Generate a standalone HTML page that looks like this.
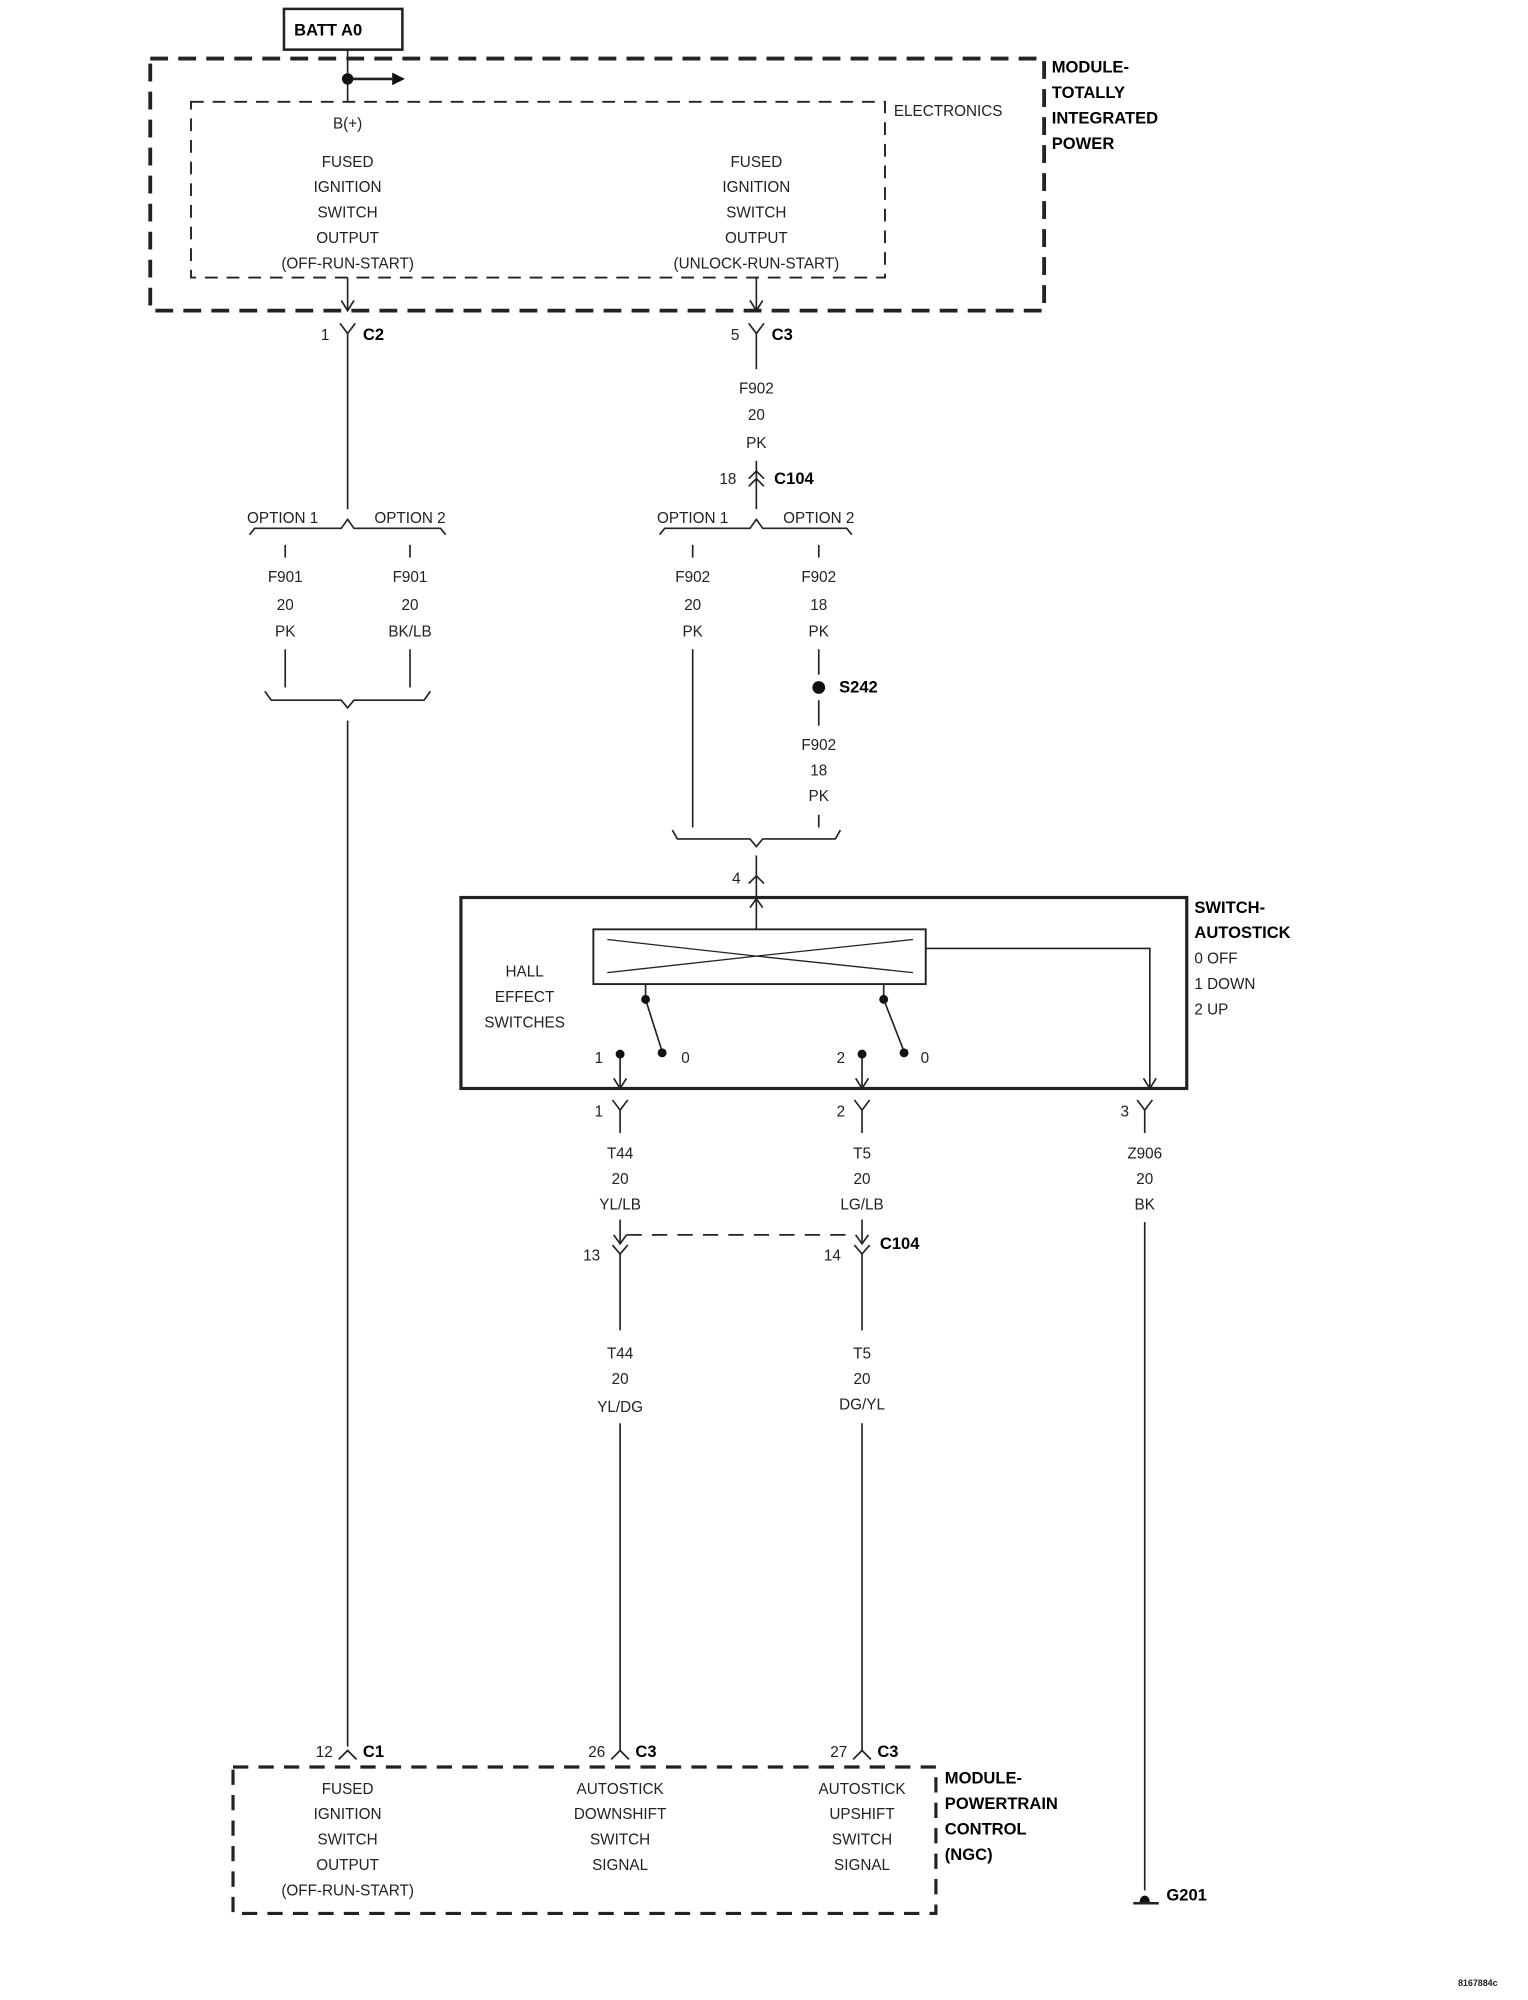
<!DOCTYPE html>
<html><head><style>
html,body{margin:0;padding:0;background:#fff;}
svg{display:block;}
text{font-family:"Liberation Sans",sans-serif;font-size:12px;fill:#222;}
.b{font-weight:bold;font-size:13px;fill:#000;}
.m{text-anchor:middle;}
</style></head><body>
<svg width="1528" height="2000" viewBox="0 0 1200 1571" preserveAspectRatio="none" xmlns="http://www.w3.org/2000/svg">
<g stroke="#222" fill="none" stroke-width="1.3">
<!-- BATT -->
<rect x="223" y="7" width="93" height="32" stroke-width="2"/>
<line x1="273" y1="39" x2="273" y2="80"/>
<line x1="273" y1="62" x2="308" y2="62" stroke-width="2"/>
<!-- outer dashed box -->
<rect x="118" y="46" width="702" height="198" stroke-width="3" stroke-dasharray="14,8"/>
<rect x="150" y="80" width="545" height="138" stroke-width="1.5" stroke-dasharray="10,7"/>
<!-- arrows down from module -->
<line x1="273" y1="218" x2="273" y2="244"/><polyline points="268,236 273,244 278,236"/>
<line x1="594" y1="218" x2="594" y2="244"/><polyline points="589,236 594,244 599,236"/>
<!-- female connectors top -->
<polyline points="267,254 273,262 279,254"/><line x1="273" y1="262" x2="273" y2="400"/>
<polyline points="588,254 594,262 600,254"/><line x1="594" y1="262" x2="594" y2="290"/>
<line x1="594" y1="362" x2="594" y2="400"/>
<polyline points="588,376 594,370 600,376"/><polyline points="588,382 594,376 600,382"/>
<!-- option braces -->
<path d="M196,420 L200,415 L268,415 L273,408 L278,415 L346,415 L350,420"/>
<path d="M518,420 L522,415 L589,415 L594,408 L599,415 L665,415 L669,420"/>
<line x1="224" y1="428" x2="224" y2="438"/><line x1="322" y1="428" x2="322" y2="438"/>
<line x1="544" y1="428" x2="544" y2="438"/><line x1="643" y1="428" x2="643" y2="438"/>
<line x1="224" y1="510" x2="224" y2="540"/><line x1="322" y1="510" x2="322" y2="540"/>
<path d="M208,543 L213,550 L268,550 L273,556 L278,550 L333,550 L338,543"/>
<line x1="273" y1="566" x2="273" y2="1372"/>
<line x1="544" y1="510" x2="544" y2="650"/>
<line x1="643" y1="510" x2="643" y2="530"/><line x1="643" y1="550" x2="643" y2="570"/>
<line x1="643" y1="640" x2="643" y2="650"/>
<path d="M528,652 L532,659 L589,659 L594,665 L599,659 L656,659 L660,652"/>
<line x1="594" y1="672" x2="594" y2="705"/><polyline points="588,694 594,688 600,694"/>
<!-- switch box -->
<rect x="362" y="705" width="570" height="150" stroke-width="2.5"/>
<line x1="594" y1="705" x2="594" y2="730"/><polyline points="589,713 594,706 599,713"/>
<rect x="466" y="730" width="261" height="43" stroke-width="1.5"/>
<path d="M477,738 L594,751 L717,738 M477,764 L594,751 L717,764" stroke-width="1"/>
<polyline points="727,745 903,745 903,855"/><polyline points="898,847 903,855 908,847"/>
<line x1="507" y1="773" x2="507" y2="785"/><line x1="507" y1="785" x2="520" y2="826"/>
<line x1="694" y1="773" x2="694" y2="785"/><line x1="694" y1="785" x2="710" y2="826"/>
<line x1="487" y1="828" x2="487" y2="855"/><polyline points="482,847 487,855 492,847"/>
<line x1="677" y1="828" x2="677" y2="855"/><polyline points="672,847 677,855 682,847"/>
<!-- female connectors below switch -->
<polyline points="481,864 487,872 493,864"/><line x1="487" y1="872" x2="487" y2="890"/>
<polyline points="671,864 677,872 683,864"/><line x1="677" y1="872" x2="677" y2="890"/>
<polyline points="893,864 899,872 905,864"/><line x1="899" y1="872" x2="899" y2="890"/>
<!-- C104 lower -->
<line x1="487" y1="958" x2="487" y2="977"/><polyline points="482,970 487,977 492,970"/>
<polyline points="481,978 487,985 493,978"/><line x1="487" y1="985" x2="487" y2="1045"/>
<line x1="677" y1="958" x2="677" y2="977"/><polyline points="672,970 677,977 682,970"/>
<polyline points="671,978 677,985 683,978"/><line x1="677" y1="985" x2="677" y2="1045"/>
<line x1="492" y1="970" x2="672" y2="970" stroke-dasharray="12,8"/>
<line x1="487" y1="1118" x2="487" y2="1375"/>
<line x1="677" y1="1118" x2="677" y2="1375"/>
<line x1="899" y1="960" x2="899" y2="1485"/>
<!-- male bottom connectors -->
<polyline points="266,1382 273,1375 280,1382"/>
<polyline points="480,1382 487,1375 494,1382"/>
<polyline points="670,1382 677,1375 684,1382"/>
<!-- bottom box -->
<rect x="183" y="1388" width="552" height="115" stroke-width="2.5" stroke-dasharray="12,8"/>
<line x1="890" y1="1495" x2="910" y2="1495" stroke-width="2"/>
</g>
<g fill="#111">
<circle cx="273" cy="62" r="4.5"/>
<polygon points="308,57 318,62 308,67"/>
<circle cx="643" cy="540" r="5"/>
<circle cx="507" cy="785" r="3.5"/><circle cx="520" cy="827" r="3.5"/>
<circle cx="694" cy="785" r="3.5"/><circle cx="710" cy="827" r="3.5"/>
<circle cx="487" cy="828" r="3.5"/><circle cx="677" cy="828" r="3.5"/>
<path d="M895,1494 A4,5 0 0 1 903,1494 Z"/>
</g>
<text x="231" y="28" class="b">BATT A0</text>
<text x="702" y="91">ELECTRONICS</text>
<text x="826" y="57" class="b">MODULE-</text><text x="826" y="77" class="b">TOTALLY</text>
<text x="826" y="97" class="b">INTEGRATED</text><text x="826" y="117" class="b">POWER</text>
<g class="m">
<text x="273" y="101" class="m">B(+)</text>
<text x="273" y="131" class="m">FUSED</text><text x="273" y="151" class="m">IGNITION</text>
<text x="273" y="171" class="m">SWITCH</text><text x="273" y="191" class="m">OUTPUT</text>
<text x="273" y="211" class="m">(OFF-RUN-START)</text>
<text x="594" y="131" class="m">FUSED</text><text x="594" y="151" class="m">IGNITION</text>
<text x="594" y="171" class="m">SWITCH</text><text x="594" y="191" class="m">OUTPUT</text>
<text x="594" y="211" class="m">(UNLOCK-RUN-START)</text>
<text x="594" y="309" class="m">F902</text><text x="594" y="330" class="m">20</text><text x="594" y="352" class="m">PK</text>
<text x="222" y="411" class="m">OPTION 1</text><text x="322" y="411" class="m">OPTION 2</text>
<text x="544" y="411" class="m">OPTION 1</text><text x="643" y="411" class="m">OPTION 2</text>
<text x="224" y="457" class="m">F901</text><text x="224" y="479" class="m">20</text><text x="224" y="500" class="m">PK</text>
<text x="322" y="457" class="m">F901</text><text x="322" y="479" class="m">20</text><text x="322" y="500" class="m">BK/LB</text>
<text x="544" y="457" class="m">F902</text><text x="544" y="479" class="m">20</text><text x="544" y="500" class="m">PK</text>
<text x="643" y="457" class="m">F902</text><text x="643" y="479" class="m">18</text><text x="643" y="500" class="m">PK</text>
<text x="643" y="589" class="m">F902</text><text x="643" y="609" class="m">18</text><text x="643" y="629" class="m">PK</text>
<text x="412" y="767" class="m">HALL</text><text x="412" y="787" class="m">EFFECT</text><text x="412" y="807" class="m">SWITCHES</text>
<text x="487" y="910" class="m">T44</text><text x="487" y="930" class="m">20</text><text x="487" y="950" class="m">YL/LB</text>
<text x="677" y="910" class="m">T5</text><text x="677" y="930" class="m">20</text><text x="677" y="950" class="m">LG/LB</text>
<text x="899" y="910" class="m">Z906</text><text x="899" y="930" class="m">20</text><text x="899" y="950" class="m">BK</text>
<text x="487" y="1067" class="m">T44</text><text x="487" y="1087" class="m">20</text><text x="487" y="1109" class="m">YL/DG</text>
<text x="677" y="1067" class="m">T5</text><text x="677" y="1087" class="m">20</text><text x="677" y="1107" class="m">DG/YL</text>
<text x="273" y="1409" class="m">FUSED</text><text x="273" y="1429" class="m">IGNITION</text>
<text x="273" y="1449" class="m">SWITCH</text><text x="273" y="1469" class="m">OUTPUT</text>
<text x="273" y="1489" class="m">(OFF-RUN-START)</text>
<text x="487" y="1409" class="m">AUTOSTICK</text><text x="487" y="1429" class="m">DOWNSHIFT</text>
<text x="487" y="1449" class="m">SWITCH</text><text x="487" y="1469" class="m">SIGNAL</text>
<text x="677" y="1409" class="m">AUTOSTICK</text><text x="677" y="1429" class="m">UPSHIFT</text>
<text x="677" y="1449" class="m">SWITCH</text><text x="677" y="1469" class="m">SIGNAL</text>
</g>
<text x="252" y="267">1</text><text x="285" y="267" class="b">C2</text>
<text x="574" y="267">5</text><text x="606" y="267" class="b">C3</text>
<text x="565" y="380">18</text><text x="608" y="380" class="b">C104</text>
<text x="659" y="544" class="b">S242</text>
<text x="575" y="694">4</text>
<text x="938" y="717" class="b">SWITCH-</text><text x="938" y="737" class="b">AUTOSTICK</text>
<text x="938" y="757">0 OFF</text><text x="938" y="777">1 DOWN</text><text x="938" y="797">2 UP</text>
<text x="467" y="835">1</text><text x="535" y="835">0</text>
<text x="657" y="835">2</text><text x="723" y="835">0</text>
<text x="467" y="877">1</text><text x="657" y="877">2</text><text x="880" y="877">3</text>
<text x="458" y="990">13</text><text x="647" y="990">14</text><text x="691" y="981" class="b">C104</text>
<text x="248" y="1380">12</text><text x="285" y="1380" class="b">C1</text>
<text x="462" y="1380">26</text><text x="499" y="1380" class="b">C3</text>
<text x="652" y="1380">27</text><text x="689" y="1380" class="b">C3</text>
<text x="742" y="1401" class="b">MODULE-</text><text x="742" y="1421" class="b">POWERTRAIN</text>
<text x="742" y="1441" class="b">CONTROL</text><text x="742" y="1461" class="b">(NGC)</text>
<text x="916" y="1493" class="b">G201</text>
<text x="1145" y="1560" style="font-size:7px;font-weight:bold">8167884c</text>
</svg>
</body></html>
